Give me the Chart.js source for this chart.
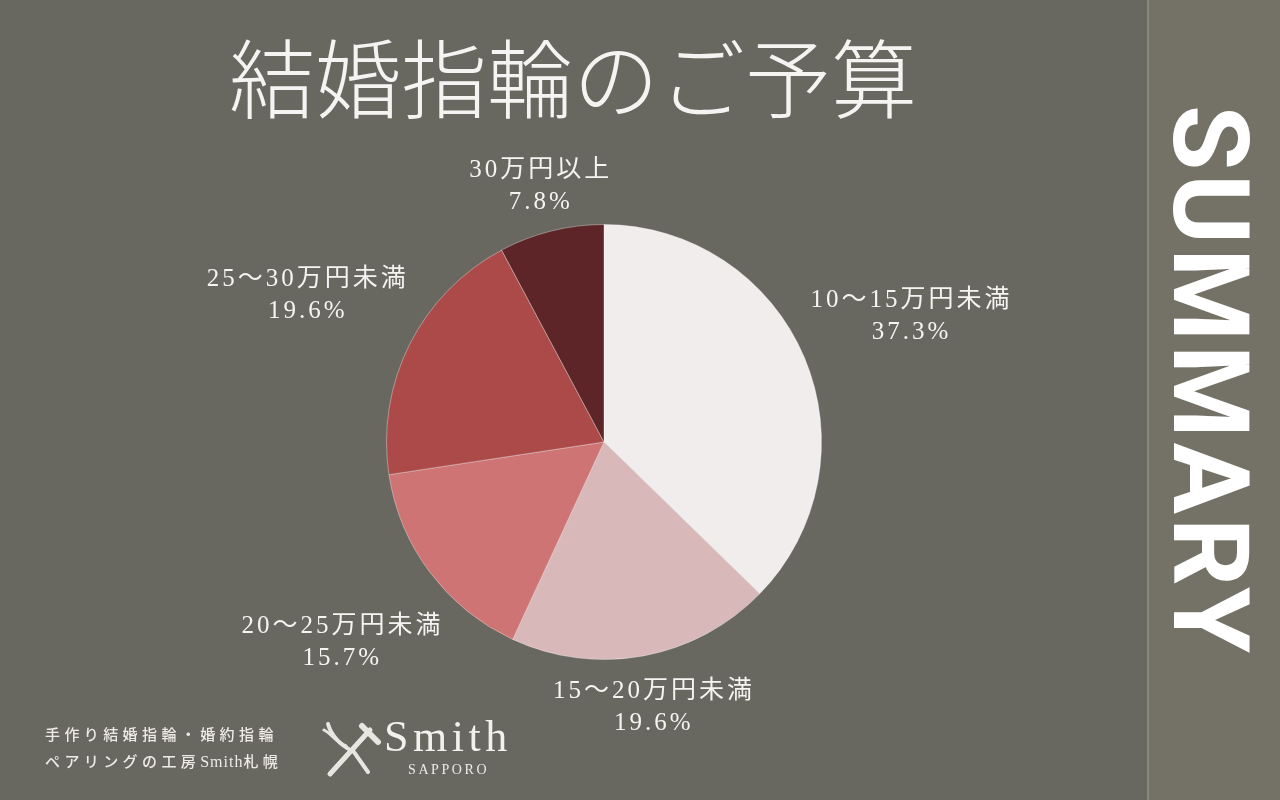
<!DOCTYPE html>
<html lang="ja">
<head>
<meta charset="utf-8">
<script src="https://cdn.jsdelivr.net/npm/chart.js@4/dist/chart.umd.min.js"></script>
<style>
  html, body { margin: 0; padding: 0; }
  body {
    width: 1280px; height: 800px; overflow: hidden; position: relative;
    background: #686760; color: #f6f4f2;
    font-family: "Noto Sans CJK JP", sans-serif;
  }
  .title {
    position: absolute; left: 0; width: 1146px; top: 25px;
    text-align: center; font-size: 86px; font-weight: 300; line-height: 100px;
  }
  .strip {
    position: absolute; left: 1147px; top: 0; width: 133px; height: 800px;
    background: #747166; border-left: 2px solid #8a877d;
  }
  .summary {
    position: absolute; left: 1210px; top: 381px;
    transform: translate(-50%, -50%) rotate(90deg);
    font-family: Roboto, sans-serif; font-weight: 700; font-size: 106px;
    letter-spacing: 4px; line-height: 1; white-space: nowrap; color: #ffffff;
  }
  .chart-container { position: absolute; left: 184px; top: 142px; width: 840px; height: 600px; }
  .foot {
    position: absolute; left: 45px; top: 720px; font-size: 15px; line-height: 27px;
    letter-spacing: 4.4px; color: #eeeae6; font-weight: 500;
  }
  .foot span { font-family: "Liberation Serif", serif; font-size: 16px; letter-spacing: 1px; }
  .logo { position: absolute; left: 322px; top: 716px; }
  .smith {
    position: absolute; left: 384px; top: 714px; font-family: "Liberation Serif", serif;
    font-size: 44px; letter-spacing: 4.5px; line-height: 46px; color: #f3f1ee;
  }
  .sapporo {
    position: absolute; left: 408px; top: 762px; font-family: "Liberation Serif", serif;
    font-size: 14px; letter-spacing: 2.6px; color: #eeeae6;
  }
</style>
</head>
<body>
<div class="title">結婚指輪のご予算</div>
<div class="strip"></div>
<div class="summary">SUMMARY</div>
<div class="chart-container"><canvas id="budgetPie"></canvas></div>
<div class="foot">手作り結婚指輪・婚約指輪<br>ペアリングの工房<span>Smith</span>札幌</div>
<svg class="logo" width="60" height="64" viewBox="0 0 60 64">
  <g stroke="#e8e6e2" fill="none" stroke-linecap="round">
    <line x1="8" y1="58" x2="48" y2="14" stroke-width="5"/>
    <line x1="40" y1="10" x2="56" y2="26" stroke-width="6"/>
    <path d="M6 8 C10 22 20 30 32 36 L46 56" stroke-width="4"/>
    <path d="M2 14 C10 18 14 26 24 30" stroke-width="3"/>
  </g>
</svg>
<div class="smith">Smith</div>
<div class="sapporo">SAPPORO</div>

<script>
// 結婚指輪の予算 (%)
const categories = ['10〜15万円未満', '15〜20万円未満', '20〜25万円未満', '25〜30万円未満', '30万円以上'];
const shares = [37.3, 19.6, 15.7, 19.6, 7.8];
const sliceColors = ['#f2eded', '#d8b8b9', '#cf7474', '#ac4a4a', '#5d2527'];

// distance of each label from the pie centre
const labelDistance = [332, 267, 329, 333, 267];

const outsideLabels = {
    id: 'outsideLabels',
    afterDatasetsDraw(chart) {
        const ctx = chart.ctx;
        const arcs = chart.getDatasetMeta(0).data;
        ctx.save();
        ctx.fillStyle = '#f6f4f2';
        ctx.font = '25px "Liberation Serif", "Noto Sans CJK JP", serif';
        ctx.letterSpacing = '3px';
        ctx.textAlign = 'center';
        ctx.textBaseline = 'middle';
        arcs.forEach((arc, i) => {
            const mid = (arc.startAngle + arc.endAngle) / 2;
            const x = arc.x + Math.cos(mid) * labelDistance[i];
            const y = arc.y + Math.sin(mid) * labelDistance[i];
            ctx.fillText(chart.data.labels[i], x + 1.5, y - 13);
            ctx.fillText(shares[i].toFixed(1) + '%', x + 1.5, y + 19);
        });
        ctx.restore();
    }
};

const canvas = document.getElementById('budgetPie');
new Chart(canvas.getContext('2d'), {
    type: 'pie',
    data: {
        labels: categories,
        datasets: [{
            data: shares,
            backgroundColor: sliceColors,
            borderColor: 'rgba(255,255,255,0.35)',
            borderWidth: 1
        }]
    },
    options: {
        responsive: true,
        maintainAspectRatio: false,
        animation: false,
        layout: { padding: 82 },
        plugins: {
            legend: { display: false },
            tooltip: { enabled: false }
        }
    },
    plugins: [outsideLabels]
});
</script>
</body>
</html>
